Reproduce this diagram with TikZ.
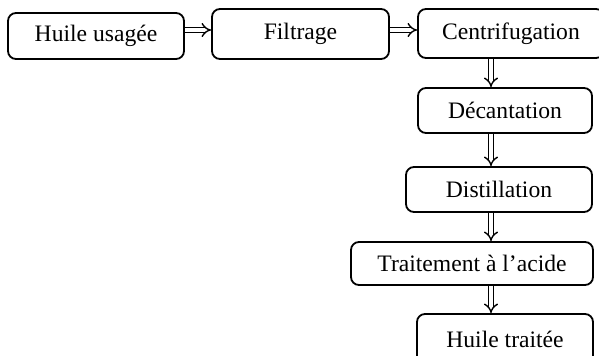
\documentclass[tikz,border=0pt]{standalone}
\usepackage{fontspec}
\setmainfont{Liberation Serif}
\usetikzlibrary{arrows.meta}

\tikzset{
    stage/.style={draw=black, line width=0.9pt, rounded corners=4pt,
        inner sep=0pt, font=\fontsize{11.8}{14}\selectfont},
    flow/.style={draw=black, line width=0.7pt, double, double distance=1.7pt,
        -{Implies}}
}

\begin{document}
\begin{tikzpicture}[x=0.5pt, y=-0.5pt]

% frame of the picture (pixels of the reference, sizes in pt)
\useasboundingbox (0,0) rectangle (599,355);

% first row
\node[stage, minimum width=88pt,  minimum height=23pt]   (usagee)  at (96,36)    {Huile usagée};
\node[stage, minimum width=88.5pt, minimum height=25pt]  (filtre)  at (300.5,34) {Filtrage};
\node[stage, minimum width=93pt,  minimum height=24.5pt] (centri)  at (511,33.5) {Centrifugation};

% column on the right
\node[stage, minimum width=87pt,  minimum height=22.5pt] (decant)  at (505,110.5) {Décantation};
\node[stage, minimum width=93pt,  minimum height=22.5pt] (distil)  at (499,189.5) {Distillation};
\node[stage, minimum width=121pt, minimum height=21.5pt] (acide)   at (472,263.5) {Traitement à l’acide};
\node[stage, minimum width=88pt,  minimum height=25pt]   (traitee) at (505,339)   {Huile traitée};

% arrows
\coordinate (row) at (0,30);
\coordinate (col) at (491,0);
\draw[flow] (usagee.east |- row) -- (filtre.west |- row);
\draw[flow] (filtre.east |- row) -- (centri.west |- row);
\draw[flow] (centri.south -| col) -- (decant.north -| col);
\draw[flow] (decant.south -| col) -- (distil.north -| col);
\draw[flow] (distil.south -| col) -- (acide.north -| col);
\draw[flow] (acide.south -| col) -- (traitee.north -| col);

\end{tikzpicture}
\end{document}
